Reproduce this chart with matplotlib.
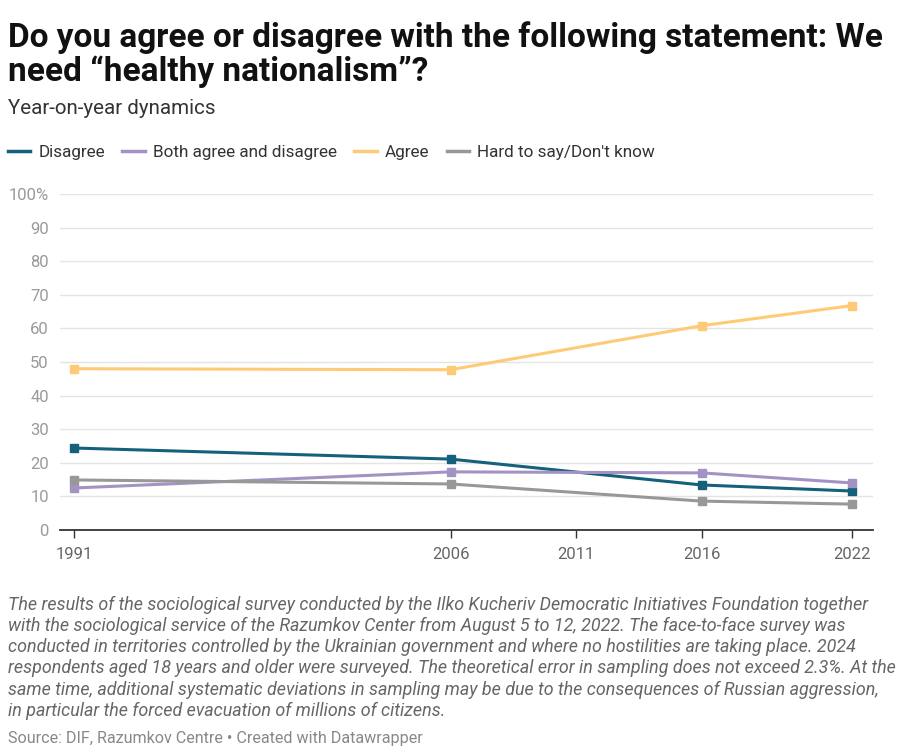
import matplotlib.pyplot as plt
from matplotlib.lines import Line2D

plt.rcParams["font.family"] = ["Roboto", "DejaVu Sans"]

years = [1991, 2006, 2016, 2022]
disagree = [24.4, 21.1, 13.4, 11.6]
both = [12.5, 17.3, 17.0, 14.0]
agree = [48.0, 47.7, 60.8, 66.8]
hard = [14.9, 13.7, 8.6, 7.7]

series_names = ["Disagree", "Both agree and disagree", "Agree", "Hard to say/Don't know"]
colors = ["#15607a", "#a393c4", "#ffca76", "#989898"]

x_ticks = [1991, 2006, 2011, 2016, 2022]
y_ticks = [0, 10, 20, 30, 40, 50, 60, 70, 80, 90, 100]

fig = plt.figure(figsize=(9.04, 7.56), dpi=100)
ax = fig.add_axes([60 / 904, 1 - 530 / 756, (873 - 60) / 904, (530 - 194) / 756])

for vals, name, c in zip([disagree, both, agree, hard], series_names, colors):
    ax.plot(years, vals, color=c, lw=2.2, marker="s", markersize=6,
            label=name, solid_joinstyle="round", zorder=3)

ax.set_xlim(1990.44, 2022.83)
ax.set_ylim(0, 100)
ax.set_xticks(x_ticks)
ax.set_xticklabels([str(y) for y in x_ticks])
ax.set_yticks(y_ticks)
ax.set_yticklabels([str(v) + ("%" if v == 100 else "") for v in y_ticks])

ax.grid(axis="y", color="#e4e4e4", lw=1)
ax.set_axisbelow(True)
for s in ["top", "right", "left"]:
    ax.spines[s].set_visible(False)
ax.spines["bottom"].set_color("#333333")
ax.spines["bottom"].set_linewidth(1.3)
ax.spines["bottom"].set_zorder(4)
ax.tick_params(axis="y", length=0, pad=8, labelsize=12, labelcolor="#9a9a9a")
ax.tick_params(axis="x", length=6, width=1, color="#333333", pad=6,
               labelsize=12, labelcolor="#666666")

fig.text(8 / 904, 1 - 38 / 756, "Do you agree or disagree with the following statement: We",
         fontsize=24, fontweight="bold", va="center", color="#111111")
fig.text(8 / 904, 1 - 72 / 756, "need \u201chealthy nationalism\u201d?",
         fontsize=24, fontweight="bold", va="center", color="#111111")
fig.text(8 / 904, 1 - 108 / 756, "Year-on-year dynamics", fontsize=14.8,
         va="center", color="#333333")

handles = [Line2D([0], [0], color=c, lw=2.5) for c in colors]
fig.legend(handles, series_names, loc="center left",
           bbox_to_anchor=(8 / 904, 1 - 152 / 756), ncol=4, frameon=False,
           fontsize=12.3, handlelength=1.3, handletextpad=0.5, columnspacing=1.0,
           borderpad=0, borderaxespad=0, labelcolor="#333333")

note = ("The results of the sociological survey conducted by the Ilko Kucheriv Democratic Initiatives Foundation together\n"
        "with the sociological service of the Razumkov Center from August 5 to 12, 2022. The face-to-face survey was\n"
        "conducted in territories controlled by the Ukrainian government and where no hostilities are taking place. 2024\n"
        "respondents aged 18 years and older were surveyed. The theoretical error in sampling does not exceed 2.3%. At the\n"
        "same time, additional systematic deviations in sampling may be due to the consequences of Russian aggression,\n"
        "in particular the forced evacuation of millions of citizens.")
fig.text(8 / 904, 1 - 596 / 756, note, fontsize=12.9, style="italic", va="top",
         color="#666666", linespacing=1.22)
fig.text(8 / 904, 1 - 738 / 756, "Source: DIF, Razumkov Centre \u2022 Created with Datawrapper",
         fontsize=11.6, va="center", color="#888888")

fig.savefig("out.png", dpi=100)
